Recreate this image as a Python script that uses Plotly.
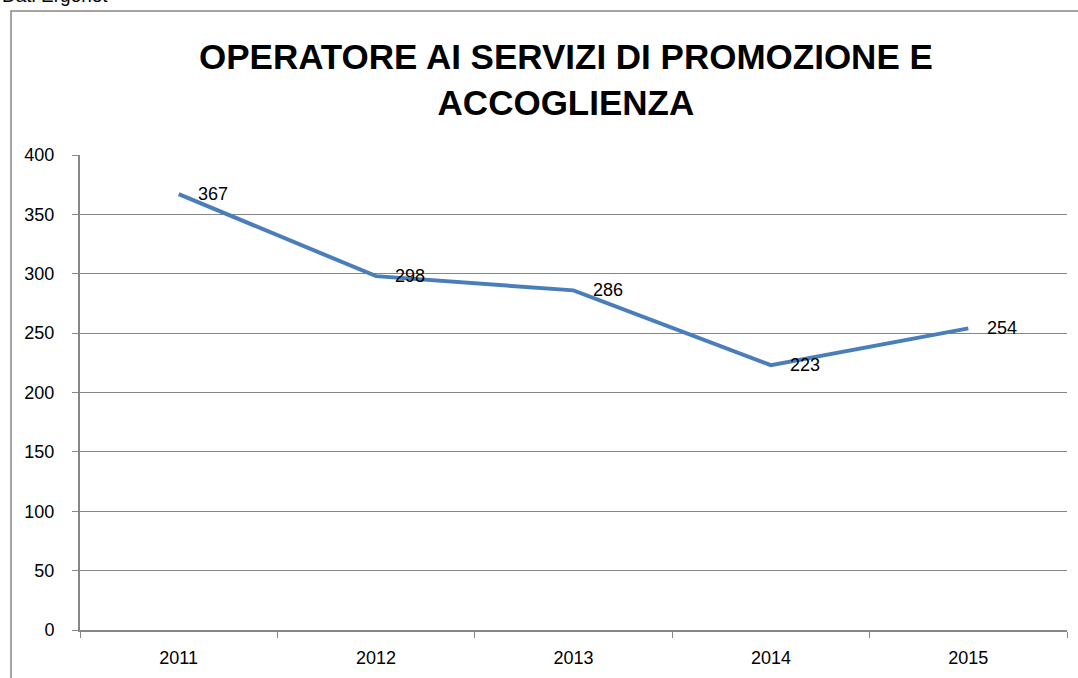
import plotly.graph_objects as go

years = ["2011", "2012", "2013", "2014", "2015"]
values = [367, 298, 286, 223, 254]
title_text = "OPERATORE AI SERVIZI DI PROMOZIONE E<br>ACCOGLIENZA"
source_text = "Dati Ergonet"

W, H = 1078, 678
L, R, T, B = 80, 11, 155, 48
pw, ph = W - L - R, H - T - B

def px_x(px):
    return (px - L) / pw

def px_y(py):
    return (H - B - py) / ph

FONT = "Liberation Sans, Arial, sans-serif"

fig = go.Figure()
fig.add_trace(go.Scatter(
    x=years, y=values,
    mode="lines",
    line=dict(color="#4a7ebb", width=4),
    hoverinfo="skip",
))

annotations = [
    dict(text=str(v), x=i, y=v, xref="x", yref="y",
         xanchor="left", yanchor="middle", xshift=17, showarrow=False,
         font=dict(family=FONT, size=18, color="black"))
    for i, v in enumerate(values)
]
annotations += [
    dict(text="<b>" + title_text + "</b>", xref="paper", yref="paper",
         x=px_x(566), y=px_y(80), xanchor="center", yanchor="middle",
         showarrow=False, align="center",
         font=dict(family=FONT, size=35, color="black")),
    dict(text=source_text, xref="paper", yref="paper",
         x=px_x(0), y=px_y(-4), xanchor="left", yanchor="middle",
         showarrow=False, font=dict(family=FONT, size=19, color="black")),
]

fig.update_layout(
    width=W, height=H,
    margin=dict(l=L, r=R, t=T, b=B, autoexpand=False),
    paper_bgcolor="white",
    plot_bgcolor="white",
    showlegend=False,
    font=dict(family=FONT, color="black"),
    xaxis=dict(
        type="category",
        range=[-0.5, 4.5],
        tickson="boundaries",
        ticks="outside",
        ticklen=6,
        tickcolor="#868686",
        showline=True,
        linecolor="#868686",
        linewidth=2,
        showgrid=False,
        ticklabelstandoff=10,
        tickfont=dict(family=FONT, size=18, color="black"),
        fixedrange=True,
    ),
    yaxis=dict(
        range=[0, 400],
        tick0=0, dtick=50,
        ticks="outside",
        ticklen=6,
        tickcolor="#868686",
        showline=True,
        linecolor="#868686",
        linewidth=2,
        showgrid=True,
        gridcolor="#868686",
        gridwidth=1,
        zeroline=False,
        ticklabelstandoff=14,
        tickfont=dict(family=FONT, size=18, color="black"),
        fixedrange=True,
    ),
    shapes=[dict(
        type="rect", xref="paper", yref="paper",
        x0=px_x(11), x1=px_x(1100), y0=px_y(700), y1=px_y(11),
        line=dict(color="#868686", width=1.5), fillcolor="rgba(0,0,0,0)",
        layer="below",
    )],
    annotations=annotations,
)

fig.write_html("out.html", config={"displayModeBar": False},
               post_script="document.body.style.margin='0';document.body.style.overflow='hidden';")
